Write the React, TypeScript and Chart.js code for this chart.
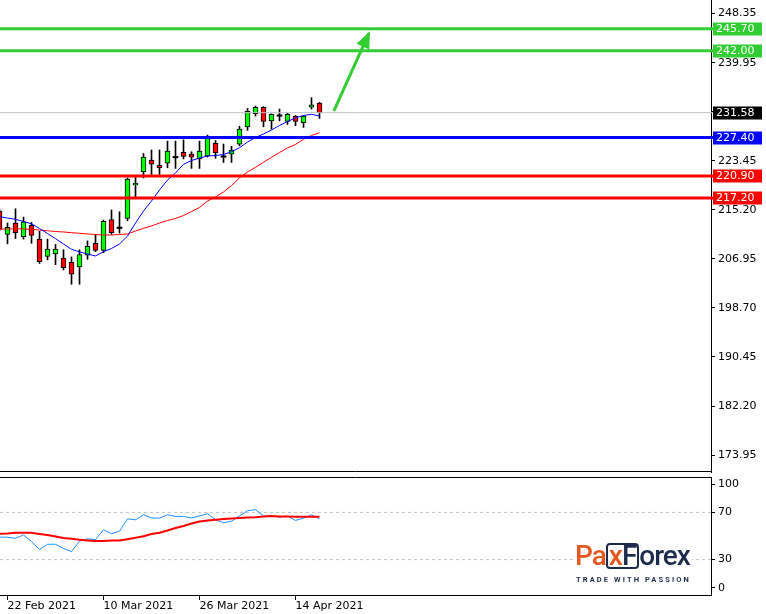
import React, { useEffect, useRef } from "react";
import { Chart, registerables } from "chart.js";

Chart.register(...registerables);

// ---------- data ----------
const dates = [
  "19 Feb", "22 Feb", "23 Feb", "24 Feb", "25 Feb", "26 Feb", "1 Mar", "2 Mar", "3 Mar", "4 Mar",
  "5 Mar", "8 Mar", "9 Mar", "10 Mar", "11 Mar", "12 Mar", "15 Mar", "16 Mar", "17 Mar", "18 Mar",
  "19 Mar", "22 Mar", "23 Mar", "24 Mar", "25 Mar", "26 Mar", "29 Mar", "30 Mar", "31 Mar", "1 Apr",
  "5 Apr", "6 Apr", "7 Apr", "8 Apr", "9 Apr", "12 Apr", "13 Apr", "14 Apr", "15 Apr", "16 Apr", "19 Apr",
];
const opens = [
  215.0, 211.1, 213.0, 210.7, 212.6, 210.3, 207.4, 207.8, 207.1, 206.4,
  205.6, 207.6, 209.6, 208.4, 213.6, 212.2, 213.8, 219.4, 221.6, 223.6,
  222.7, 223.1, 224.1, 224.9, 224.6, 223.8, 224.3, 226.4, 224.2, 224.6,
  226.3, 229.2, 231.4, 232.5, 230.2, 231.1, 230.1, 231.0, 229.9, 232.5, 233.2,
];
const highs = [
  215.3, 213.0, 215.4, 214.0, 213.1, 211.6, 210.3, 209.4, 208.5, 207.3,
  208.5, 210.0, 211.1, 213.5, 215.2, 214.9, 220.6, 220.8, 224.7, 225.3,
  225.3, 226.8, 226.8, 227.0, 225.0, 226.8, 227.8, 226.9, 226.3, 225.9,
  229.3, 232.3, 232.7, 232.6, 231.4, 232.2, 231.5, 231.1, 231.1, 234.1, 233.3,
];
const lows = [
  211.7, 209.5, 210.4, 210.3, 209.6, 206.2, 206.8, 206.0, 205.1, 202.7,
  202.7, 206.9, 208.2, 208.0, 211.1, 211.3, 213.4, 217.1, 220.6, 221.2,
  221.2, 222.3, 222.2, 223.8, 222.2, 222.2, 224.1, 223.9, 223.2, 223.2,
  226.0, 228.6, 231.0, 229.2, 228.8, 230.2, 229.6, 229.4, 229.1, 232.2, 230.6,
];
const closes = [
  212.0, 212.3, 211.4, 213.2, 210.9, 206.5, 208.6, 208.6, 205.5, 204.4,
  207.7, 209.1, 208.4, 213.3, 211.4, 212.2, 220.4, 219.7, 224.1, 222.9,
  222.3, 225.1, 224.1, 224.2, 224.1, 225.1, 227.3, 224.8, 224.2, 225.3,
  228.8, 231.8, 232.5, 230.1, 231.3, 231.1, 231.3, 230.1, 231.0, 232.9, 231.58,
];
const maFast = [
  214.07, 213.85, 213.63, 213.26, 212.88, 212.08, 211.24, 210.37, 209.48, 208.58,
  208.13, 207.79, 207.46, 208.18, 208.72, 209.48, 210.82, 213.01, 215.03, 216.71,
  218.57, 220.25, 221.43, 222.89, 223.53, 223.95, 224.29, 224.37, 224.54, 225.01,
  225.68, 226.65, 227.40, 227.99, 228.67, 229.42, 230.10, 230.69, 231.11, 231.31, 231.02,
];
const maSlow = [
  211.95, 212.0, 212.03, 212.03, 211.92, 211.83, 211.70, 211.58, 211.50, 211.38,
  211.28, 211.16, 211.07, 210.99, 210.99, 211.07, 211.16, 211.66, 212.12, 212.51,
  213.01, 213.43, 213.77, 214.27, 214.95, 215.62, 216.71, 217.39, 218.23, 219.32,
  220.59, 221.60, 222.39, 223.23, 224.07, 224.88, 225.64, 226.23, 227.10, 227.74, 228.21,
];
const rsi = [
  49.0, 49.0, 48.1, 50.9, 45.3, 38.5, 43.0, 43.0, 39.4, 36.8,
  45.7, 47.6, 47.0, 55.3, 51.9, 54.1, 64.5, 63.8, 68.0, 65.3,
  65.1, 68.0, 66.6, 66.6, 65.3, 67.0, 68.9, 63.8, 61.2, 62.6,
  67.0, 71.4, 72.3, 67.0, 66.9, 66.0, 66.9, 63.2, 65.1, 68.0, 64.6,
];
const rsiSignal = [
  51.9, 52.1, 52.7, 52.7, 52.7, 51.7, 50.9, 49.6, 48.3, 47.6,
  46.8, 46.2, 45.7, 45.7, 46.2, 46.2, 47.3, 48.5, 49.8, 51.7,
  52.7, 54.7, 56.8, 58.5, 60.6, 62.3, 63.2, 63.8, 64.5, 64.9,
  65.3, 65.7, 65.9, 66.6, 66.9, 66.6, 66.6, 66.3, 66.3, 66.3, 66.3,
];
const dateTickIndex = [1, 13, 25, 37];
const dateTickLabels = ["22 Feb 2021", "10 Mar 2021", "26 Mar 2021", "14 Apr 2021"];
const priceTicks = [248.35, 239.95, 231.7, 223.45, 215.2, 206.95, 198.7, 190.45, 182.2, 173.95];
const levelValues = [245.7, 242.0, 231.58, 227.4, 220.9, 217.2];
const levelLineColors = ["#32cd32", "#32cd32", "#c0c0c0", "#0000ff", "#ff0000", "#ff0000"];
const levelBoxColors = ["#32cd32", "#32cd32", "#000000", "#0000ff", "#ff0000", "#ff0000"];
const levelWidths = [3, 3, 1, 3, 3, 3];
const rsiLevels = [70, 30];
const rsiTickValues = [94, 70, 30, 6];
const rsiTickLabels = ["100", "70", "30", "0"];
const arrowX = [41.8, 46.2];
const arrowY = [231.9, 245.0];

// ---------- layout ----------
const FONT = "'DejaVu Sans', Verdana, sans-serif";
const X_MIN = 0.0625;
const X_MAX = 88.9375;
const AXIS_W = 55;

export default function App() {
  const mainRef = useRef<HTMLCanvasElement>(null);
  const rsiRef = useRef<HTMLCanvasElement>(null);

  useEffect(() => {
    Chart.defaults.font.family = FONT;
    Chart.defaults.font.size = 11;
    Chart.defaults.color = "#000";

    const idx = opens.map((_, i) => i);
    const isDoji = (i: number) => opens[i] === closes[i];
    const bodyData = idx.map((i) => ({
      x: i,
      y: isDoji(i) ? [closes[i] - 0.12, closes[i] + 0.12] : [opens[i], closes[i]],
    }));
    const wickData = idx.map((i) => ({ x: i, y: [lows[i], highs[i]] }));
    const bodyColors = idx.map((i) =>
      isDoji(i) ? "#000000" : closes[i] > opens[i] ? "#00ff00" : "#ff0000"
    );

    const levelSets = levelValues.map((v, k) => ({
      type: "line" as const,
      data: [
        { x: X_MIN, y: v },
        { x: X_MAX, y: v },
      ],
      borderColor: levelLineColors[k],
      borderWidth: levelWidths[k],
      pointRadius: 0,
      order: 0,
    }));

    const arrowSet = {
      type: "line" as const,
      data: arrowX.map((x, k) => ({ x, y: arrowY[k] })),
      borderColor: "#32cd32",
      borderWidth: 3,
      pointRadius: 0,
      order: 0,
    };

    const mainPlugin = {
      id: "mainDecor",
      afterDraw(chart: any) {
        const { ctx, chartArea: a } = chart;
        const ys = chart.scales.y;
        ctx.save();
        ctx.strokeStyle = "#000";
        ctx.lineWidth = 1;
        ctx.beginPath();
        ctx.moveTo(0, a.bottom - 0.5);
        ctx.lineTo(a.right, a.bottom - 0.5);
        ctx.stroke();
        const meta = chart.getDatasetMeta(levelValues.length);
        const p0 = meta.data[0];
        const p1 = meta.data[1];
        const ang = Math.atan2(p1.y - p0.y, p1.x - p0.x);
        const L = 15;
        const W = 7;
        ctx.fillStyle = "#32cd32";
        ctx.beginPath();
        ctx.moveTo(p1.x + 2 * Math.cos(ang), p1.y + 2 * Math.sin(ang));
        ctx.lineTo(
          p1.x - L * Math.cos(ang) + W * Math.sin(ang),
          p1.y - L * Math.sin(ang) - W * Math.cos(ang)
        );
        ctx.lineTo(
          p1.x - L * Math.cos(ang) - W * Math.sin(ang),
          p1.y - L * Math.sin(ang) + W * Math.cos(ang)
        );
        ctx.closePath();
        ctx.fill();
        ctx.font = `11px ${FONT}`;
        ctx.textBaseline = "middle";
        ctx.textAlign = "left";
        levelValues.forEach((v, k) => {
          const y = ys.getPixelForValue(v);
          ctx.fillStyle = levelLineColors[k];
          ctx.fillRect(a.right, y - levelWidths[k] / 2, 2, levelWidths[k]);
          ctx.fillStyle = levelBoxColors[k];
          ctx.fillRect(a.right + 2, Math.round(y) - 6.5, 49, 13);
          ctx.fillStyle = "#fff";
          ctx.fillText(v.toFixed(2), a.right + 5, Math.round(y));
        });
        ctx.restore();
      },
    };

    const main = new Chart(mainRef.current!, {
      type: "bar",
      data: {
        datasets: [
          ...levelSets,
          arrowSet,
          {
            type: "line",
            data: idx.map((i) => ({ x: i, y: maFast[i] })),
            borderColor: "#0000ff",
            borderWidth: 1,
            pointRadius: 0,
            order: 1,
          },
          {
            type: "line",
            data: idx.map((i) => ({ x: i, y: maSlow[i] })),
            borderColor: "#ff0000",
            borderWidth: 1,
            pointRadius: 0,
            order: 1,
          },
          {
            type: "bar",
            data: bodyData as any,
            backgroundColor: bodyColors,
            borderColor: "#000",
            borderWidth: idx.map((i) => (isDoji(i) ? 0 : 1)) as any,
            borderSkipped: false,
            barThickness: 5,
            grouped: false,
            order: 2,
          },
          {
            type: "bar",
            data: wickData as any,
            backgroundColor: "#000",
            borderWidth: 0,
            barThickness: 1,
            grouped: false,
            order: 3,
          },
        ] as any,
      },
      options: {
        animation: false,
        responsive: false,
        devicePixelRatio: 1,
        layout: { padding: { left: 0, right: 0, top: 0, bottom: 2 } },
        plugins: { legend: { display: false }, tooltip: { enabled: false } },
        scales: {
          x: { type: "linear", min: X_MIN, max: X_MAX, display: false, offset: false },
          y: {
            type: "linear",
            position: "right",
            min: 171.09,
            max: 250.55,
            grid: { drawOnChartArea: false, drawTicks: true, tickLength: 4, tickColor: "#000" },
            border: { display: true, color: "#000", width: 1 },
            ticks: {
              padding: 3,
              color: "#000",
              font: { family: FONT, size: 11 },
              callback: (v: any) => Number(v).toFixed(2),
            },
            afterBuildTicks: (s: any) => {
              s.ticks = priceTicks.map((v) => ({ value: v }));
            },
            afterFit: (s: any) => {
              s.width = AXIS_W;
              s.paddingTop = 0;
              s.paddingBottom = 0;
            },
          },
        },
      } as any,
      plugins: [mainPlugin],
    });

    const rsiPlugin = {
      id: "rsiDecor",
      afterDraw(chart: any) {
        const { ctx, chartArea: a } = chart;
        ctx.save();
        ctx.strokeStyle = "#000";
        ctx.lineWidth = 1;
        ctx.beginPath();
        ctx.moveTo(0, a.top + 0.5);
        ctx.lineTo(a.right, a.top + 0.5);
        ctx.stroke();
        ctx.restore();
      },
    };

    const rsiChart = new Chart(rsiRef.current!, {
      type: "line",
      data: {
        datasets: [
          {
            data: idx.map((i) => ({ x: i, y: rsi[i] })),
            borderColor: "#1e90ff",
            borderWidth: 1,
            pointRadius: 0,
            order: 1,
          },
          {
            data: idx.map((i) => ({ x: i, y: rsiSignal[i] })),
            borderColor: "#ff0000",
            borderWidth: 2,
            pointRadius: 0,
            order: 0,
          },
          ...rsiLevels.map((v) => ({
            data: [
              { x: X_MIN, y: v },
              { x: X_MAX, y: v },
            ],
            borderColor: "#c0c0c0",
            borderWidth: 1,
            borderDash: [3, 3],
            pointRadius: 0,
            order: 2,
          })),
        ],
      },
      options: {
        animation: false,
        responsive: false,
        devicePixelRatio: 1,
        layout: { padding: { left: 0, right: 0, top: 3, bottom: 0 } },
        plugins: { legend: { display: false }, tooltip: { enabled: false } },
        scales: {
          x: {
            type: "linear",
            min: X_MIN,
            max: X_MAX,
            offset: false,
            grid: { drawOnChartArea: false, drawTicks: true, tickLength: 5, tickColor: "#000" },
            border: { display: true, color: "#000", width: 1 },
            ticks: {
              align: "start",
              maxRotation: 0,
              autoSkip: false,
              padding: 0,
              color: "#000",
              font: { family: FONT, size: 11 },
              callback: (_v: any, i: number) => dateTickLabels[i],
            },
            afterBuildTicks: (s: any) => {
              s.ticks = dateTickIndex.map((v) => ({ value: v }));
            },
            afterFit: (s: any) => {
              s.height = 19;
              s.paddingLeft = 0;
              s.paddingRight = 0;
            },
          },
          y: {
            type: "linear",
            position: "right",
            min: 0,
            max: 100,
            grid: { drawOnChartArea: false, drawTicks: true, tickLength: 4, tickColor: "#000" },
            border: { display: true, color: "#000", width: 1 },
            ticks: {
              padding: 3,
              color: "#000",
              font: { family: FONT, size: 11 },
              callback: (_v: any, i: number) => rsiTickLabels[i],
            },
            afterBuildTicks: (s: any) => {
              s.ticks = rsiTickValues.map((v) => ({ value: v }));
            },
            afterFit: (s: any) => {
              s.width = AXIS_W;
              s.paddingTop = 0;
              s.paddingBottom = 0;
            },
          },
        },
      } as any,
      plugins: [rsiPlugin],
    });

    return () => {
      main.destroy();
      rsiChart.destroy();
    };
  }, []);

  const navy = "#1e2c4c";
  const orange = "#e4571f";
  return (
    <div style={{ position: "absolute", left: 0, top: 0, width: 766, height: 614, background: "#fff", overflow: "hidden" }}>
      <canvas ref={mainRef} width={766} height={474} style={{ position: "absolute", left: 0, top: 0, width: 766, height: 474 }} />
      <canvas ref={rsiRef} width={766} height={140} style={{ position: "absolute", left: 0, top: 474, width: 766, height: 140 }} />
      <div
        style={{
          position: "absolute",
          left: 573,
          top: 540,
          width: 119,
          height: 46,
          background: "#fff",
          fontFamily: "Roboto, 'Noto Sans', sans-serif",
        }}
      >
        <div style={{ position: "absolute", left: 2, top: 1, fontSize: 28, fontWeight: 500, lineHeight: "30px", letterSpacing: -1, whiteSpace: "nowrap" }}>
          <span style={{ color: orange }}>Pa</span>
          <span style={{ display: "inline-block", border: `2px solid ${navy}`, borderRadius: 4, lineHeight: "22px", padding: "0 1px" }}>
            <span style={{ color: orange }}>x</span>
            <span style={{ color: navy }}>F</span>
          </span>
          <span style={{ color: navy }}>orex</span>
        </div>
        <div style={{ position: "absolute", left: 3, top: 35, fontSize: 7.5, fontWeight: 700, letterSpacing: 2.1, color: navy, whiteSpace: "nowrap" }}>
          TRADE WITH PASSION
        </div>
      </div>
    </div>
  );
}
